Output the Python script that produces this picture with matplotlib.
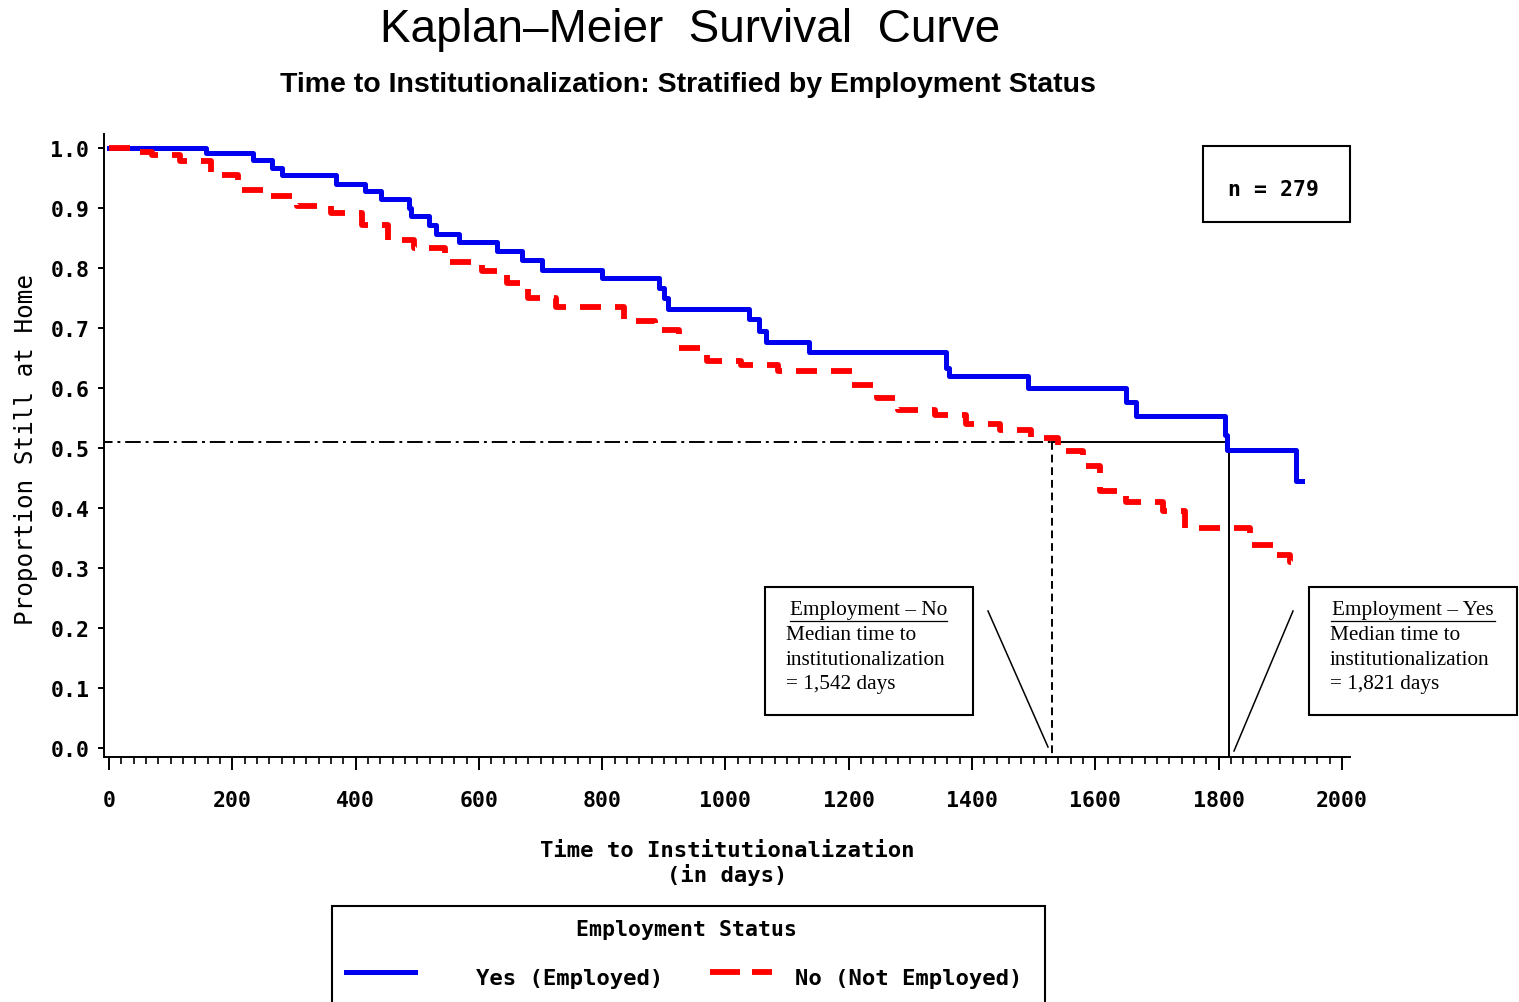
"""Kaplan-Meier survival curve: time to institutionalization by employment status."""
import matplotlib

matplotlib.use("Agg")
import matplotlib.pyplot as plt
from matplotlib import font_manager
from matplotlib.lines import Line2D
from matplotlib.patches import Rectangle
from matplotlib.ticker import MultipleLocator

W, H = 1519, 1003

# Employed (Yes): step times (days) and survival level after each step
yes_days = [0, 157, 233, 264, 281, 368, 416, 442, 486, 490, 519, 531, 567,
            629, 670, 702, 800, 892, 900, 907, 1038, 1054, 1065, 1135, 1357,
            1362, 1490, 1650, 1666, 1810, 1814, 1925]
yes_surv = [1.0, 0.992, 0.98, 0.967, 0.955, 0.94, 0.928, 0.915, 0.90, 0.887,
            0.872, 0.857, 0.843, 0.828, 0.813, 0.797, 0.783, 0.767, 0.75,
            0.732, 0.714, 0.695, 0.677, 0.66, 0.633, 0.62, 0.60, 0.577, 0.553,
            0.522, 0.497, 0.445]
yes_end = 1935

# Not employed (No)
no_days = [0, 43, 70, 115, 165, 210, 255, 305, 360, 410, 452, 495, 545, 605,
           645, 680, 725, 835, 885, 925, 970, 1025, 1085, 1205, 1245, 1280,
           1340, 1390, 1445, 1495, 1540, 1580, 1607, 1650, 1710, 1745, 1850,
           1895, 1915]
no_surv = [1.0, 0.993, 0.988, 0.978, 0.955, 0.93, 0.92, 0.903, 0.892, 0.872,
           0.847, 0.833, 0.81, 0.795, 0.775, 0.75, 0.735, 0.712, 0.697, 0.667,
           0.645, 0.638, 0.628, 0.605, 0.583, 0.563, 0.555, 0.54, 0.53, 0.517,
           0.495, 0.47, 0.428, 0.41, 0.395, 0.367, 0.338, 0.322, 0.31]
no_end = 1920

median_level = 0.51
median_no_x = 1530
median_yes_x = 1817
median_no_days = "1,542"
median_yes_days = "1,821"
n_total = 279

BLUE = "#0000f0"
RED = "#ff0000"
MONO = "DejaVu Sans Mono"
SERIF = "Liberation Serif"
_names = {f.name for f in font_manager.fontManager.ttflist}
NARROW = "Liberation Sans Narrow" if "Liberation Sans Narrow" in _names else "Liberation Sans"


def fp(x, y):
    """Figure fraction from pixel position (origin top-left)."""
    return x / W, 1 - y / H


fig = plt.figure(figsize=(W / 100, H / 100), dpi=100)
left, top = fp(104, 135)
right, bottom = fp(1350, 758)
ax = fig.add_axes([left, bottom, right - left, top - bottom])

ax.step(yes_days + [yes_end], yes_surv + [yes_surv[-1]], where="post",
        color=BLUE, lw=3.6, zorder=3)
ax.step(no_days + [no_end], no_surv + [no_surv[-1]], where="post",
        color=RED, lw=4.2, dashes=(3.6, 2.4), zorder=4)

# median reference lines
ax.plot([-20, median_no_x], [median_level, median_level], color="black",
        lw=1.4, dashes=(8, 2.5, 1.5, 2.5), zorder=2)
ax.plot([median_no_x, median_yes_x], [median_level, median_level],
        color="black", lw=1.4, zorder=2)
ax.plot([median_no_x, median_no_x], [median_level, -0.1], color="black",
        lw=1.4, dashes=(4, 2.5), zorder=2)
ax.plot([median_yes_x, median_yes_x], [median_level, -0.1], color="black",
        lw=1.4, zorder=2)

ax.set_xlim(-8.1, 2013)
ax.set_ylim(-0.015, 1.023)
ax.set_xticks(range(0, 2001, 200))
ax.xaxis.set_minor_locator(MultipleLocator(20))
ax.set_yticks([i / 10 for i in range(11)])
ax.set_yticklabels([f"{i / 10:.1f}" for i in range(11)])
ax.tick_params(axis="x", which="major", length=9.5, width=1.4, pad=14)
ax.tick_params(axis="x", which="minor", length=5, width=1.2)
ax.tick_params(axis="y", length=4.5, width=1.4, pad=6)
for lab in ax.get_xticklabels() + ax.get_yticklabels():
    lab.set_fontfamily(MONO)
    lab.set_fontweight("bold")
    lab.set_fontsize(15.5)
for side in ("top", "right"):
    ax.spines[side].set_visible(False)
for side in ("left", "bottom"):
    ax.spines[side].set_linewidth(1.4)

# titles and axis labels
fig.text(*fp(690, 30), "Kaplan\u2013Meier  Survival  Curve", ha="center",
         va="center", family=NARROW, fontsize=33)
fig.text(*fp(688, 85), "Time to Institutionalization: Stratified by Employment Status",
         ha="center", va="center", family=NARROW, fontweight="bold", fontsize=20.5)
fig.text(*fp(26, 450), "Proportion Still at Home", rotation=90, ha="center",
         va="center", family=MONO, fontsize=17.5)
fig.text(*fp(727, 851), "Time to Institutionalization", ha="center",
         va="center", family=MONO, fontweight="bold", fontsize=16)
fig.text(*fp(727, 875), "(in days)", ha="center", va="center", family=MONO,
         fontweight="bold", fontsize=16)

# n box
x0, y0 = fp(1203, 223)
x1, y1 = fp(1350, 147)
fig.add_artist(Rectangle((x0, y0), x1 - x0, y1 - y0, transform=fig.transFigure,
                         fill=False, ec="black", lw=1.5))
fig.text(*fp(1274, 190), f"n = {n_total}", ha="center", va="center",
         family=MONO, fontweight="bold", fontsize=15.5)

# median annotation boxes
for bx, head, ul, days, ptr in [
    (765, "Employment \u2013 No", (790, 947), median_no_days,
     ((988, 612), (1048, 748))),
    (1309, "Employment \u2013 Yes", (1331, 1495), median_yes_days,
     ((1293, 612), (1234, 752))),
]:
    x0, y0 = fp(bx, 716)
    x1, y1 = fp(bx + 208, 588)
    fig.add_artist(Rectangle((x0, y0), x1 - x0, y1 - y0,
                             transform=fig.transFigure, fill=False,
                             ec="black", lw=1.5))
    fig.text(*fp((ul[0] + ul[1]) / 2, 611), head, ha="center", va="center",
             family=SERIF, fontsize=15.3)
    (ux0, uy), (ux1, _) = fp(ul[0], 622), fp(ul[1], 622)
    fig.add_artist(Line2D([ux0, ux1], [uy, uy], transform=fig.transFigure,
                          color="black", lw=0.9))
    for k, line in enumerate(["Median time to", "institutionalization",
                              f"= {days} days"]):
        fig.text(*fp(bx + 21, 636 + 24.5 * k), line, ha="left", va="center",
                 family=SERIF, fontsize=15.3)
    (px0, py0), (px1, py1) = fp(*ptr[0]), fp(*ptr[1])
    fig.add_artist(Line2D([px0, px1], [py0, py1], transform=fig.transFigure,
                          color="black", lw=1.1))

# legend box (runs off the bottom edge)
x0, y0 = fp(332, 1015)
x1, y1 = fp(1045, 907)
fig.add_artist(Rectangle((x0, y0), x1 - x0, y1 - y0, transform=fig.transFigure,
                         fill=False, ec="black", lw=1.5, clip_on=False))
fig.text(*fp(686, 930), "Employment Status", ha="center", va="center",
         family=MONO, fontweight="bold", fontsize=15.5)
(lx0, ly), (lx1, _) = fp(346, 973), fp(415, 973)
fig.add_artist(Line2D([lx0, lx1], [ly, ly], transform=fig.transFigure,
                      color=BLUE, lw=3.6))
fig.text(*fp(476, 979), "Yes (Employed)", ha="left", va="center", family=MONO,
         fontweight="bold", fontsize=16)
for a, b in [(710, 740), (752, 772)]:
    (sx0, sy), (sx1, _) = fp(a, 973), fp(b, 973)
    fig.add_artist(Line2D([sx0, sx1], [sy, sy], transform=fig.transFigure,
                          color=RED, lw=4.2, solid_capstyle="butt"))
fig.text(*fp(795, 979), "No (Not Employed)", ha="left", va="center",
         family=MONO, fontweight="bold", fontsize=16)

fig.savefig("out.png", dpi=100)
plt.close(fig)
